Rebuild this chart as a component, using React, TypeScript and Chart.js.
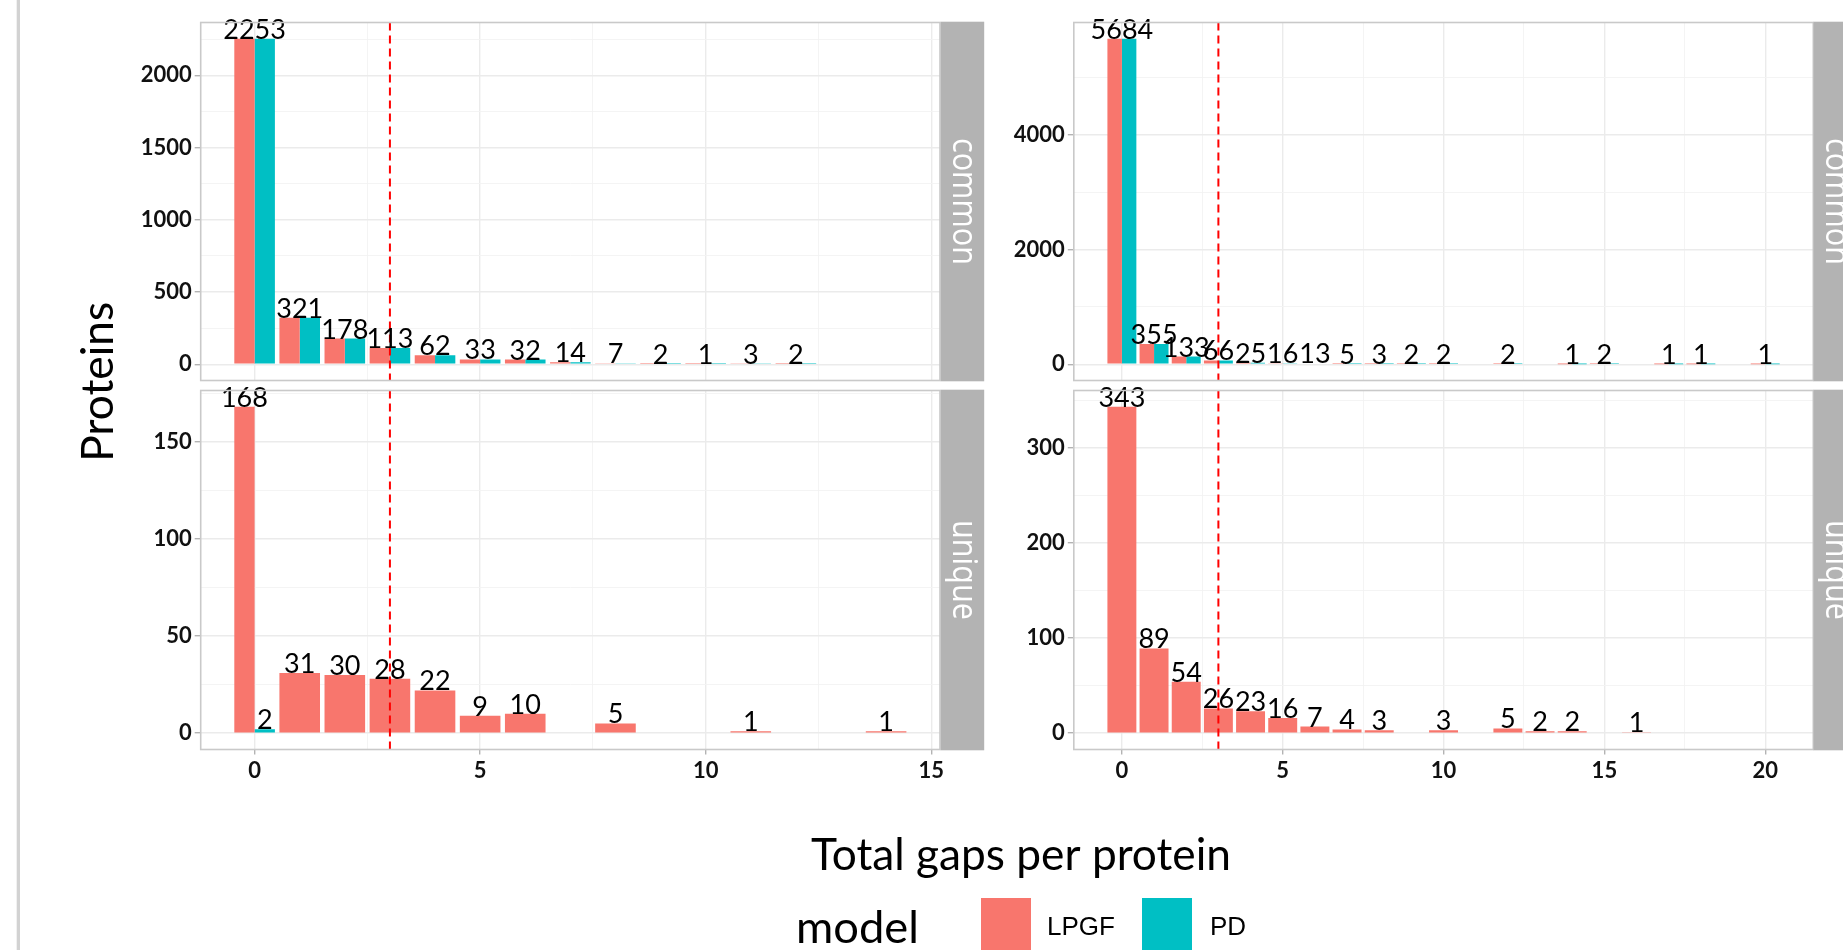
import React, { useEffect, useRef } from "react";
import { Chart, registerables } from "chart.js";

Chart.register(...registerables);

// ---------------- data ----------------
const SERIES = ["LPGF", "PD"];
const SERIES_COLORS = ["#F8766D", "#00BFC4"];
const FACETS = ["common", "unique"];

const GAPS_LEFT = [0, 1, 2, 3, 4, 5, 6, 7, 8, 9, 10, 11, 12, 13, 14];
const LEFT_COMMON_LPGF = [2253, 321, 178, 113, 62, 33, 32, 14, 7, 2, 1, 3, 2, null, null];
const LEFT_COMMON_PD = [2253, 321, 178, 113, 62, 33, 32, 14, 7, 2, 1, 3, 2, null, null];
const LEFT_UNIQUE_LPGF = [168, 31, 30, 28, 22, 9, 10, null, 5, null, null, 1, null, null, 1];
const LEFT_UNIQUE_PD = [2, null, null, null, null, null, null, null, null, null, null, null, null, null, null];

const GAPS_RIGHT = [0, 1, 2, 3, 4, 5, 6, 7, 8, 9, 10, 11, 12, 13, 14, 15, 16, 17, 18, 19, 20];
const RIGHT_COMMON_LPGF = [5684, 355, 133, 66, 25, 16, 13, 5, 3, 2, 2, null, 2, null, 1, 2, null, 1, 1, null, 1];
const RIGHT_COMMON_PD = [5684, 355, 133, 66, 25, 16, 13, 5, 3, 2, 2, null, 2, null, 1, 2, null, 1, 1, null, 1];
const RIGHT_UNIQUE_LPGF = [343, 89, 54, 26, 23, 16, 7, 4, 3, null, 3, null, 5, 2, 2, null, 1, null, null, null, null];
const RIGHT_UNIQUE_PD = [null, null, null, null, null, null, null, null, null, null, null, null, null, null, null, null, null, null, null, null, null];

const X_TICKS_LEFT = [0, 5, 10, 15];
const X_TICKS_RIGHT = [0, 5, 10, 15, 20];
const Y_TICKS_LEFT_COMMON = [0, 500, 1000, 1500, 2000];
const Y_TICKS_LEFT_UNIQUE = [0, 50, 100, 150];
const Y_TICKS_RIGHT_COMMON = [0, 2000, 4000];
const Y_TICKS_RIGHT_UNIQUE = [0, 100, 200, 300];

const THRESHOLD = 3;
const Y_TITLE = "Proteins";
const X_TITLE = "Total gaps per protein";
const LEGEND_TITLE = "model";

// ---------------- layout / style ----------------
const PAGE_W = 1843;
const PAGE_H = 950;
const PANEL_ROWS = [
  { t: 22.5, b: 380.5 },
  { t: 390.5, b: 749.5 },
];
const PLOT_COLS = [
  { l: 200.7, r: 940, stripL: 940.7 },
  { l: 1073.8, r: 1813.3, stripL: 1813.6 },
];
const STRIP_W = 43.5;
const Y_AXIS_W = 150;
const X_AXIS_H = 50;
const BAR_W = 0.9;
const EXPAND = 0.05;

const TICK_FONT = { family: "Lato", size: 22, weight: "bold" as const };
const LABEL_FONT = "27px Lato";
const GRID_MAJOR = "#EBEBEB";
const GRID_MINOR = "#F3F3F3";
const BORDER_COL = "#C9C9C9";
const STRIP_BG = "#B3B3B3";

type PanelSpec = {
  gaps: number[];
  values: (number | null)[][];
  xTicks: number[];
  yTicks: number[];
  xRange: [number, number];
  col: number;
  row: number;
  facet: string;
};

function xExtent(gaps: number[], rows: (number | null)[][]): [number, number] {
  let lo = Infinity;
  let hi = -Infinity;
  gaps.forEach((g, i) => {
    if (rows.some((r) => r[i] != null)) {
      lo = Math.min(lo, g);
      hi = Math.max(hi, g);
    }
  });
  const a = lo - BAR_W / 2;
  const b = hi + BAR_W / 2;
  const pad = EXPAND * (b - a);
  return [a - pad, b + pad];
}

function withMinor(major: number[], lo: number, hi: number): number[] {
  const step = (major[1] - major[0]) / 2;
  const out: number[] = [];
  for (let k = -4; k <= major.length * 2 + 4; k++) {
    const v = major[0] + k * step;
    if (v >= lo - 1e-9 && v <= hi + 1e-9) out.push(v);
  }
  return out;
}

function fitSize(ctx: CanvasRenderingContext2D, text: string, family: string, weight: string, width: number) {
  ctx.font = `${weight} 100px ${family}`;
  const w = ctx.measureText(text).width;
  return (100 * width) / w;
}

const leftX = xExtent(GAPS_LEFT, [LEFT_COMMON_LPGF, LEFT_COMMON_PD, LEFT_UNIQUE_LPGF, LEFT_UNIQUE_PD]);
const rightX = xExtent(GAPS_RIGHT, [RIGHT_COMMON_LPGF, RIGHT_COMMON_PD, RIGHT_UNIQUE_LPGF, RIGHT_UNIQUE_PD]);

const PANELS: PanelSpec[] = [
  { gaps: GAPS_LEFT, values: [LEFT_COMMON_LPGF, LEFT_COMMON_PD], xTicks: X_TICKS_LEFT, yTicks: Y_TICKS_LEFT_COMMON, xRange: leftX, col: 0, row: 0, facet: FACETS[0] },
  { gaps: GAPS_LEFT, values: [LEFT_UNIQUE_LPGF, LEFT_UNIQUE_PD], xTicks: X_TICKS_LEFT, yTicks: Y_TICKS_LEFT_UNIQUE, xRange: leftX, col: 0, row: 1, facet: FACETS[1] },
  { gaps: GAPS_RIGHT, values: [RIGHT_COMMON_LPGF, RIGHT_COMMON_PD], xTicks: X_TICKS_RIGHT, yTicks: Y_TICKS_RIGHT_COMMON, xRange: rightX, col: 1, row: 0, facet: FACETS[0] },
  { gaps: GAPS_RIGHT, values: [RIGHT_UNIQUE_LPGF, RIGHT_UNIQUE_PD], xTicks: X_TICKS_RIGHT, yTicks: Y_TICKS_RIGHT_UNIQUE, xRange: rightX, col: 1, row: 1, facet: FACETS[1] },
];

function drawStripText(ctx: CanvasRenderingContext2D, text: string, cx: number, cy: number) {
  const size = fitSize(ctx, FACETS[0], "'Open Sans'", "normal", 127);
  ctx.save();
  ctx.translate(cx, cy);
  ctx.rotate(Math.PI / 2);
  ctx.scale(1, 1.15);
  ctx.font = `normal ${size}px 'Open Sans'`;
  ctx.fillStyle = "#FFFFFF";
  ctx.textAlign = "center";
  ctx.textBaseline = "alphabetic";
  ctx.fillText(text, 0, size * 0.27);
  ctx.restore();
}

function drawGlobal(ctx: CanvasRenderingContext2D) {
  ctx.save();
  // slide border line
  ctx.fillStyle = "#D2D2D2";
  ctx.fillRect(16.7, 0, 3.3, PAGE_H);

  // y title
  const ys = fitSize(ctx, Y_TITLE, "Lato", "normal", 160);
  ctx.save();
  ctx.translate(113.3, 381.7);
  ctx.rotate(-Math.PI / 2);
  ctx.font = `normal ${ys}px Lato`;
  ctx.fillStyle = "#000";
  ctx.textAlign = "center";
  ctx.textBaseline = "alphabetic";
  ctx.fillText(Y_TITLE, 0, 0);
  ctx.restore();

  // x title
  const xs = fitSize(ctx, X_TITLE, "Lato", "normal", 420);
  ctx.font = `normal ${xs}px Lato`;
  ctx.fillStyle = "#000";
  ctx.textAlign = "center";
  ctx.textBaseline = "alphabetic";
  ctx.fillText(X_TITLE, 1021, 870);

  // legend
  const ms = fitSize(ctx, LEGEND_TITLE, "Lato", "normal", 123);
  ctx.font = `normal ${ms}px Lato`;
  ctx.textAlign = "left";
  ctx.fillText(LEGEND_TITLE, 796, 943);

  const swX = [981, 1142];
  const txX = [1047, 1210];
  SERIES.forEach((name, i) => {
    ctx.fillStyle = SERIES_COLORS[i];
    ctx.fillRect(swX[i], 898, 50, 60);
    ctx.fillStyle = "#000";
    ctx.font = "normal 26px 'Liberation Sans'";
    ctx.textAlign = "left";
    ctx.fillText(name, txX[i], 935);
  });
  ctx.restore();
}

function buildChart(canvas: HTMLCanvasElement, spec: PanelSpec, index: number) {
  const colL = PLOT_COLS[spec.col];
  const rowL = PANEL_ROWS[spec.row];
  const area = { l: colL.l, r: colL.r, t: rowL.t, b: rowL.b };
  const showX = spec.row === PANEL_ROWS.length - 1;
  const xAxisH = showX ? X_AXIS_H : 0;

  const all = spec.values.flat().filter((v) => v != null) as number[];
  const ymax = Math.max(...all);
  const yMin = -EXPAND * ymax;
  const yMax = (1 + EXPAND) * ymax;
  const [xMin, xMax] = spec.xRange;

  const xAll = withMinor(spec.xTicks, xMin, xMax);
  const yAll = withMinor(spec.yTicks, yMin, yMax);
  const isMajX = (v: number) => spec.xTicks.includes(v);
  const isMajY = (v: number) => spec.yTicks.includes(v);

  const panelPlugin = {
    id: "panelDecor" + index,
    afterDatasetsDraw(chart: any) {
      const ctx: CanvasRenderingContext2D = chart.ctx;
      const xs = chart.scales.x;
      const ca = chart.chartArea;
      // threshold line
      ctx.save();
      ctx.strokeStyle = "#FF0000";
      ctx.lineWidth = 2;
      ctx.setLineDash([8, 5]);
      const px = xs.getPixelForValue(THRESHOLD);
      ctx.beginPath();
      ctx.moveTo(px, ca.top);
      ctx.lineTo(px, ca.bottom);
      ctx.stroke();
      ctx.restore();

      // value labels
      ctx.save();
      ctx.font = LABEL_FONT;
      ctx.fillStyle = "#000";
      ctx.textAlign = "center";
      ctx.textBaseline = "alphabetic";
      spec.gaps.forEach((g, i) => {
        const items = spec.values
          .map((arr, s) => ({ v: arr[i], el: chart.getDatasetMeta(s).data[i] }))
          .filter((it) => it.v != null && it.el);
        if (!items.length) return;
        const same = items.every((it) => it.v === items[0].v);
        if (same) {
          const x = items.reduce((a, it) => a + it.el.x, 0) / items.length;
          const y = Math.min(...items.map((it) => it.el.y));
          ctx.fillText(String(items[0].v), x, y);
        } else {
          items.forEach((it) => ctx.fillText(String(it.v), it.el.x, it.el.y));
        }
      });
      ctx.restore();
    },
    afterDraw(chart: any) {
      const ctx: CanvasRenderingContext2D = chart.ctx;
      const ca = chart.chartArea;
      ctx.save();
      ctx.strokeStyle = BORDER_COL;
      ctx.lineWidth = 1.6;
      ctx.strokeRect(ca.left, ca.top, ca.right - ca.left, ca.bottom - ca.top);
      // strip
      ctx.fillStyle = STRIP_BG;
      ctx.fillRect(colL.stripL, ca.top - 0.8, STRIP_W, ca.bottom - ca.top + 1.6);
      ctx.restore();
      drawStripText(ctx, spec.facet, colL.stripL + STRIP_W / 2, (ca.top + ca.bottom) / 2);
      if (index === 0) drawGlobal(ctx);
    },
  };

  return new Chart(canvas, {
    type: "bar",
    data: {
      datasets: SERIES.map((name, s) => ({
        label: name,
        data: spec.gaps.map((g, i) => ({ x: g, y: spec.values[s][i] })),
        backgroundColor: SERIES_COLORS[s],
        borderWidth: 0,
        skipNull: true,
        categoryPercentage: BAR_W,
        barPercentage: 1,
      })) as any,
    },
    options: {
      animation: false,
      responsive: false,
      devicePixelRatio: 1,
      events: [],
      layout: {
        padding: {
          left: area.l - Y_AXIS_W,
          right: PAGE_W - area.r,
          top: area.t,
          bottom: PAGE_H - area.b - xAxisH,
        },
      },
      plugins: { legend: { display: false }, tooltip: { enabled: false }, title: { display: false } },
      scales: {
        x: {
          type: "linear",
          min: xMin,
          max: xMax,
          offset: false,
          afterBuildTicks: (sc: any) => {
            sc.ticks = xAll.map((v) => ({ value: v }));
          },
          afterFit: (sc: any) => {
            sc.height = xAxisH;
          },
          border: { display: false },
          grid: {
            offset: false,
            color: (c: any) => (isMajX(c.tick?.value) ? GRID_MAJOR : GRID_MINOR),
            lineWidth: (c: any) => (isMajX(c.tick?.value) ? 1.4 : 0.9),
            drawTicks: showX,
            tickLength: 5,
            tickColor: (c: any) => (isMajX(c.tick?.value) ? "#B3B3B3" : "rgba(0,0,0,0)"),
            tickWidth: 1.4,
          },
          ticks: {
            display: showX,
            autoSkip: false,
            maxRotation: 0,
            padding: 3,
            color: "#111",
            font: TICK_FONT,
            callback: (v: any) => (isMajX(Number(v)) ? String(v) : ""),
          },
        },
        y: {
          type: "linear",
          min: yMin,
          max: yMax,
          afterBuildTicks: (sc: any) => {
            sc.ticks = yAll.map((v) => ({ value: v }));
          },
          afterFit: (sc: any) => {
            sc.width = Y_AXIS_W;
          },
          border: { display: false },
          grid: {
            color: (c: any) => (isMajY(c.tick?.value) ? GRID_MAJOR : GRID_MINOR),
            lineWidth: (c: any) => (isMajY(c.tick?.value) ? 1.4 : 0.9),
            drawTicks: true,
            tickLength: 6,
            tickColor: (c: any) => (isMajY(c.tick?.value) ? "#B3B3B3" : "rgba(0,0,0,0)"),
            tickWidth: 1.4,
          },
          ticks: {
            autoSkip: false,
            padding: 3,
            color: "#111",
            font: TICK_FONT,
            callback: (v: any) => (isMajY(Number(v)) ? String(v) : ""),
          },
        },
      },
    } as any,
    plugins: [panelPlugin],
  });
}

export default function App() {
  const refs = useRef<(HTMLCanvasElement | null)[]>([]);

  useEffect(() => {
    const charts = PANELS.map((spec, i) => buildChart(refs.current[i] as HTMLCanvasElement, spec, i));
    return () => charts.forEach((c) => c.destroy());
  }, []);

  return (
    <div style={{ position: "absolute", left: 0, top: 0, width: PAGE_W, height: PAGE_H, background: "#FFFFFF", overflow: "hidden" }}>
      {PANELS.map((_, i) => (
        <canvas
          key={i}
          ref={(el) => {
            refs.current[i] = el;
          }}
          width={PAGE_W}
          height={PAGE_H}
          style={{ position: "absolute", left: 0, top: 0 }}
        />
      ))}
    </div>
  );
}
